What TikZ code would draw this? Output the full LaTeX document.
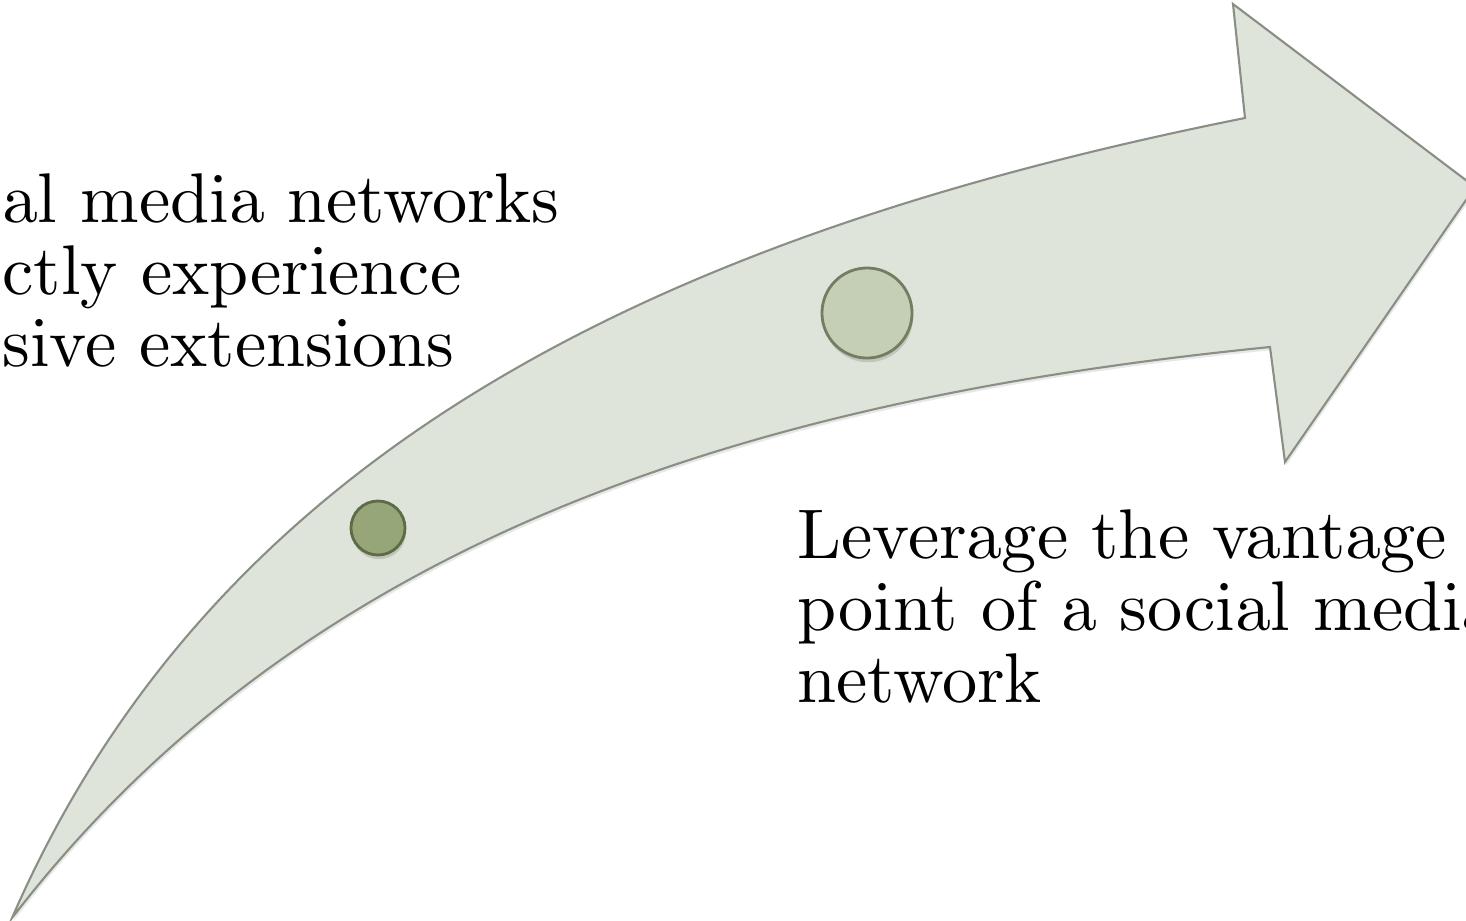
\documentclass[tikz,border=0pt]{standalone}
\usepackage{tikz}
\usetikzlibrary{shadows}
\font\capfnt=cmr10 at 20pt
\definecolor{arrowfill}{RGB}{223,228,218}
\definecolor{arrowline}{RGB}{138,143,133}
\definecolor{dotpale}{RGB}{197,207,182}
\definecolor{dotpaleln}{RGB}{115,125,98}
\definecolor{dotdark}{RGB}{150,166,121}
\definecolor{dotdarkln}{RGB}{94,107,71}
\tikzset{
  arrowbody/.style = {draw=arrowline, fill=arrowfill, line width=0.6pt, line join=miter,
                      drop shadow={shadow xshift=0.4pt, shadow yshift=-0.9pt, opacity=0.18}},
  stagedot/.style  = {circle, inner sep=0pt, line width=0.8pt,
                      drop shadow={shadow xshift=0.3pt, shadow yshift=-1.2pt, opacity=0.3}},
  captext/.style   = {font=\fontsize{20}{20.5}\selectfont\capfnt, align=left, inner sep=0pt, anchor=north west}
}

\begin{document}
\begin{tikzpicture}[x=0.01cm, y=-0.01cm]
  \useasboundingbox (0,0) rectangle (1466,920);
  \clip (0,0) rectangle (1466,920);
  % curved arrow
  \draw[arrowbody] (12,918) .. controls (212,458) and (645,238) .. (1245,118)
        -- (1233,4) -- (1475,187) -- (1285,462) -- (1270,347)
        .. controls (770,397) and (312,528) .. (12,918) -- cycle;
  % stage markers
  \node[stagedot, draw=dotdarkln, fill=dotdark, minimum size=0.54cm] (dota) at (378,528) {};
  \node[stagedot, draw=dotpaleln, fill=dotpale, minimum size=0.9cm] (dotb) at (867,313) {};
  % captions
  \node[captext] (capleft) at (2,173) {al media networks\\ctly experience\\sive extensions};
  \node[captext] (capright) at (797,509) {Leverage the vantage\\point of a social media\\network};
\end{tikzpicture}
\end{document}
